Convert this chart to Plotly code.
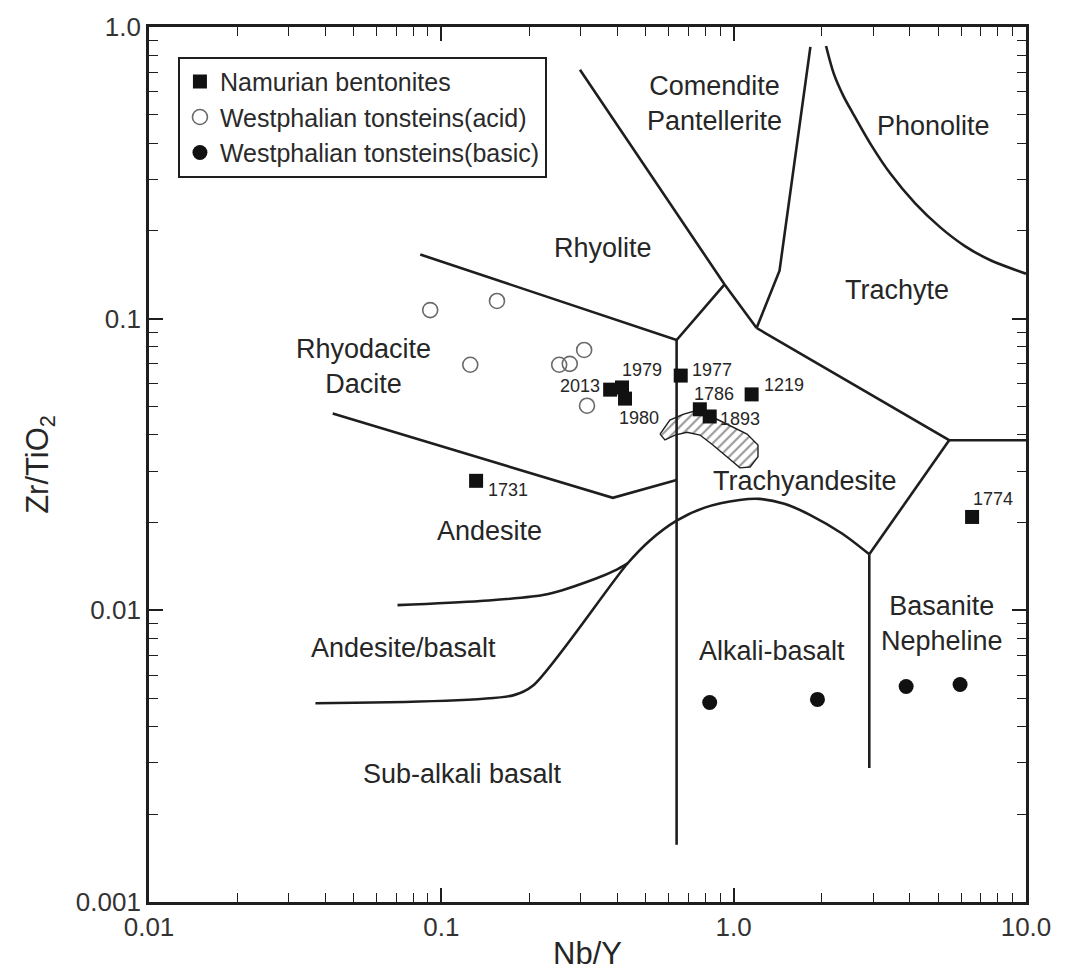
import numpy as np
import plotly.graph_objects as go

# ---------------- data ----------------
# Namurian bentonites (sample ids, Nb/Y, Zr/TiO2)
nam_ids = ["2013", "1979", "1980", "1977", "1786", "1893", "1219", "1731", "1774"]
nam_nby = [0.378, 0.415, 0.425, 0.659, 0.766, 0.828, 1.152, 0.1315, 6.54]
nam_zr = [0.0571, 0.0581, 0.0532, 0.0638, 0.0489, 0.0462, 0.0550, 0.0278, 0.0209]
# label offsets (pixels) relative to each sample
nam_lbl_dx = [-8, 20, 14, 31, 14, 30, 32, 32, 21]
nam_lbl_dy = [4, 17, -19, 6, 15, -3, 9, -9, 18]
nam_lbl_anchor = ["right", "center", "center", "center", "center", "center", "center", "center", "center"]

# Westphalian tonsteins (acid)
acid_nby = [0.0916, 0.155, 0.1256, 0.253, 0.275, 0.308, 0.315]
acid_zr = [0.107, 0.115, 0.0695, 0.0695, 0.070, 0.0781, 0.0503]

# Westphalian tonsteins (basic)
basic_nby = [0.828, 1.935, 3.89, 5.95]
basic_zr = [0.00483, 0.00495, 0.00548, 0.00557]

# Field boundaries (Nb/Y, Zr/TiO2)
bA_x = [0.298, 0.931, 1.198]
bA_y = [0.713, 0.131, 0.0929]
bB_x = [1.83, 1.435, 1.198]
bB_y = [0.855, 0.146, 0.0929]
bC_x = [2.07, 2.20, 2.37, 2.56, 2.93, 3.43, 4.17, 5.08, 6.18, 7.53, 10.0]
bC_y = [0.861, 0.692, 0.582, 0.505, 0.399, 0.315, 0.249, 0.206, 0.1774, 0.1589, 0.1426]
bD_x = [1.198, 5.46, 10.0]
bD_y = [0.0929, 0.0383, 0.0383]
bE_x = [0.0847, 0.638, 0.931]
bE_y = [0.166, 0.0845, 0.131]
bF_x = [0.638, 0.638]
bF_y = [0.0845, 0.00157]
bG_x = [0.0425, 0.386, 0.638]
bG_y = [0.0473, 0.0243, 0.028]
bH_x = [0.0371, 0.176, 0.206, 0.434, 0.516, 0.638, 0.796, 1.048, 1.227, 1.49, 1.816, 2.355, 2.91]
bH_y = [0.0048, 0.00511, 0.00552, 0.0145, 0.01733, 0.0203, 0.0225, 0.0239, 0.0241, 0.0232, 0.0213, 0.0183, 0.01556]
bI_x = [0.0708, 0.136, 0.230, 0.340, 0.393, 0.434]
bI_y = [0.01042, 0.01076, 0.01135, 0.01288, 0.01371, 0.0145]
bJ_x = [2.91, 2.91]
bJ_y = [0.01556, 0.00288]
bK_x = [5.46, 2.91]
bK_y = [0.0383, 0.01556]

# hatched field
hatch_x = [0.560, 0.605, 0.671, 0.750, 0.877, 0.995, 1.111, 1.211, 1.211, 1.138, 1.051,
           0.948, 0.849, 0.767, 0.692, 0.630, 0.582, 0.560]
hatch_y = [0.0402, 0.0449, 0.0470, 0.0485, 0.0452, 0.0425, 0.0402, 0.0369, 0.0336, 0.0310, 0.0308,
           0.0336, 0.0369, 0.0399, 0.0408, 0.0399, 0.0384, 0.0402]

# field names
field_names = ["Comendite<br>Pantellerite", "Phonolite", "Rhyolite", "Trachyte",
               "Rhyodacite<br>Dacite", "Trachyandesite", "Andesite", "Andesite/basalt",
               "Alkali-basalt", "Basanite<br>Nepheline", "Sub-alkali basalt"]
field_nby = [0.857, 4.81, 0.357, 3.62, 0.0540, 1.754, 0.1465, 0.0740, 1.353, 5.16, 0.1186]
field_zr = [0.546, 0.459, 0.1745, 0.1256, 0.0686, 0.0278, 0.01875, 0.00741, 0.00724, 0.00903, 0.00275]

x_tickvals = [0.01, 0.1, 1.0, 10.0]
x_ticktext = ["0.01", "0.1", "1.0", "10.0"]
y_tickvals = [0.001, 0.01, 0.1, 1.0]
y_ticktext = ["0.001", "0.01", "0.1", "1.0"]

# ---------------- figure ----------------
INK = "#1e1e1e"
FONT = "Liberation Sans, Arial, sans-serif"
fig = go.Figure()

fig.add_trace(go.Scatter(x=hatch_x, y=hatch_y, mode="lines", fill="toself",
                         fillcolor="white",
                         fillpattern=dict(shape="/", size=7, solidity=0.3, fgcolor="#333333", bgcolor="white"),
                         line=dict(color=INK, width=1.4), showlegend=False, hoverinfo="skip"))

boundaries = [(bA_x, bA_y, "linear"), (bB_x, bB_y, "linear"), (bC_x, bC_y, "spline"),
              (bD_x, bD_y, "linear"), (bE_x, bE_y, "linear"), (bF_x, bF_y, "linear"),
              (bG_x, bG_y, "linear"), (bH_x, bH_y, "spline"), (bI_x, bI_y, "spline"),
              (bJ_x, bJ_y, "linear"), (bK_x, bK_y, "linear")]
for bx, by, shp in boundaries:
    fig.add_trace(go.Scatter(x=bx, y=by, mode="lines",
                             line=dict(color=INK, width=2.6, shape=shp, smoothing=0.8),
                             showlegend=False, hoverinfo="skip"))

fig.add_trace(go.Scatter(x=nam_nby, y=nam_zr, mode="markers", name="Namurian bentonites",
                         marker=dict(symbol="square", size=14, color="#111111",
                                     line=dict(color="#111111", width=0))))
fig.add_trace(go.Scatter(x=acid_nby, y=acid_zr, mode="markers", name="Westphalian tonsteins(acid)",
                         marker=dict(symbol="circle-open", size=15, color="#6a6a6a",
                                     line=dict(color="#6a6a6a", width=1.6))))
fig.add_trace(go.Scatter(x=basic_nby, y=basic_zr, mode="markers", name="Westphalian tonsteins(basic)",
                         marker=dict(symbol="circle", size=15, color="#111111")))

annotations = []
for name, fx, fy in zip(field_names, field_nby, field_zr):
    annotations.append(dict(x=np.log10(fx), y=np.log10(fy), xref="x", yref="y", text=name,
                            showarrow=False, font=dict(family=FONT, size=27, color="#262626"),
                            xanchor="center", yanchor="middle", align="center"))
for sid, nx, ny, dx, dy, anc in zip(nam_ids, nam_nby, nam_zr, nam_lbl_dx, nam_lbl_dy, nam_lbl_anchor):
    annotations.append(dict(x=np.log10(nx), y=np.log10(ny), xref="x", yref="y", text=sid,
                            showarrow=False, font=dict(family=FONT, size=18, color="#262626"),
                            xanchor=anc, yanchor="middle", xshift=dx, yshift=dy))

axis_common = dict(type="log", showline=True, linewidth=2.8, linecolor=INK, mirror="ticks",
                   ticks="inside", ticklen=14, tickwidth=1.5, tickcolor=INK,
                   showgrid=False, zeroline=False,
                   tickfont=dict(family=FONT, size=26, color="#333333"),
                   minor=dict(ticks="inside", ticklen=9, tickwidth=1.2, tickcolor=INK,
                              dtick="D1", showgrid=False))

fig.update_xaxes(**axis_common, range=[-2, 1], tickmode="array",
                 tickvals=x_tickvals, ticktext=x_ticktext,
                 title=dict(text="Nb/Y", font=dict(family=FONT, size=31, color="#262626"), standoff=2))
fig.update_yaxes(**axis_common, range=[-3, 0], tickmode="array",
                 tickvals=y_tickvals, ticktext=y_ticktext,
                 title=dict(text="Zr/TiO<sub>2</sub>", font=dict(family=FONT, size=31, color="#262626"),
                            standoff=18))

fig.update_layout(
    width=1065, height=979,
    margin=dict(l=149, r=39, t=23, b=77),
    paper_bgcolor="white", plot_bgcolor="white",
    font=dict(family=FONT, color="#262626"),
    annotations=annotations,
    legend=dict(x=0.033, y=0.966, xanchor="left", yanchor="top",
                bgcolor="white", bordercolor=INK, borderwidth=2,
                font=dict(family=FONT, size=25, color="#2a2a2a"),
                itemsizing="trace"),
    showlegend=True,
)

fig.write_html("out.html")
